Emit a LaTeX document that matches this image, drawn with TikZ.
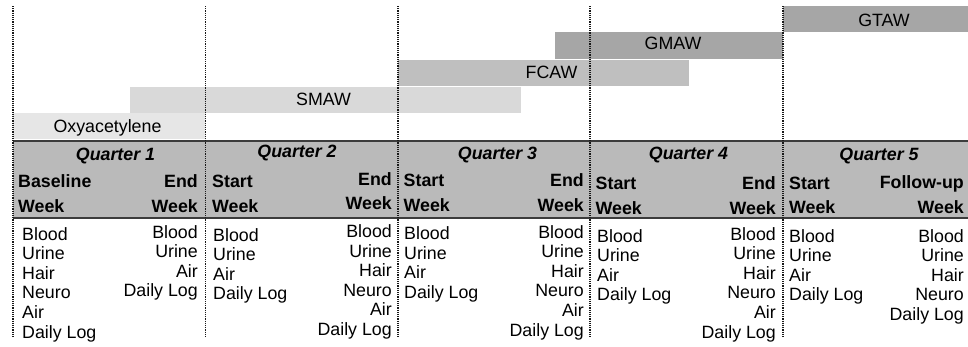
\documentclass[tikz,border=0pt]{standalone}
\usepackage{fontspec}
\setmainfont{Liberation Sans}
\definecolor{oxyfill}{HTML}{E6E6E6}
\definecolor{smawfill}{HTML}{D9D9D9}
\definecolor{fcawfill}{HTML}{BFBFBF}
\definecolor{gmawfill}{HTML}{A6A6A6}
\definecolor{hdrfill}{HTML}{BABABA}
\definecolor{rulecol}{HTML}{3C3C3C}
% one column of stacked sample labels: name prefix, anchor, x, first baseline, items
\newcommand{\samplecol}[5]{%
  \foreach \t [count=\k] in {#5}{%
    \node[lbl, anchor=#2] (#1-\k) at (#3, {#4+19.6*(\k-1)}) {\t};}}
\begin{document}
\begin{tikzpicture}[x=1pt, y=-1pt,
  lbl/.style={inner sep=0pt, text=black, font=\fontsize{17.8}{20}\selectfont},
  hdr/.style={lbl, font=\fontsize{17.8}{20}\selectfont\bfseries},
  qtr/.style={lbl, font=\fontsize{17.8}{20}\selectfont\bfseries\itshape},
  sep/.style={line width=1.4pt, dash pattern=on 1.1pt off 1.1pt, black!90},
  rulestyle/.style={line width=2pt, rulecol}]
\useasboundingbox (0,0) rectangle (968,346);

% welding-process bars
\fill[oxyfill]  (13,113)  rectangle (205,139);
\fill[smawfill] (130,87)  rectangle (521,113);
\fill[fcawfill] (398,60)  rectangle (689,86);
\fill[gmawfill] (555,32)  rectangle (783,59);
\fill[gmawfill] (783,6)   rectangle (968,31.5);
\node[lbl, anchor=base] (oxy)  at (107.5,132) {Oxyacetylene};
\node[lbl, anchor=base] (smaw) at (323.5,105.5) {SMAW};
\node[lbl, anchor=base] (fcaw) at (551.5,78) {FCAW};
\node[lbl, anchor=base] (gmaw) at (673,49.5) {GMAW};
\node[lbl, anchor=base] (gtaw) at (884,26.5) {GTAW};

% header band
\fill[hdrfill] (13,141) rectangle (968,218);
\draw[rulestyle] (13,141) -- (968,141);
\draw[rulestyle] (13,218) -- (968,218);

% quarter titles
\node[qtr, anchor=base] (q1) at (115.5,160) {Quarter 1};
\node[qtr, anchor=base] (q2) at (297,157.5) {Quarter 2};
\node[qtr, anchor=base] (q3) at (497.5,159) {Quarter 3};
\node[qtr, anchor=base] (q4) at (688.5,159.5) {Quarter 4};
\node[qtr, anchor=base] (q5) at (879,160) {Quarter 5};

% week headings
\node[hdr, anchor=base west] (h1a) at (18,187.5) {Baseline};
\node[hdr, anchor=base west] (h1b) at (18,212.5) {Week};
\node[hdr, anchor=base east] (h1c) at (198,187) {End};
\node[hdr, anchor=base east] (h1d) at (198,212) {Week};
\node[hdr, anchor=base west] (h2a) at (212,187.5) {Start};
\node[hdr, anchor=base west] (h2b) at (212,212.5) {Week};
\node[hdr, anchor=base east] (h2c) at (392,185) {End};
\node[hdr, anchor=base east] (h2d) at (392,209.5) {Week};
\node[hdr, anchor=base west] (h3a) at (403.5,186.5) {Start};
\node[hdr, anchor=base west] (h3b) at (403.5,211.5) {Week};
\node[hdr, anchor=base east] (h3c) at (584,186.5) {End};
\node[hdr, anchor=base east] (h3d) at (584,211.5) {Week};
\node[hdr, anchor=base west] (h4a) at (595.5,189.5) {Start};
\node[hdr, anchor=base west] (h4b) at (595.5,214) {Week};
\node[hdr, anchor=base east] (h4c) at (776,189.5) {End};
\node[hdr, anchor=base east] (h4d) at (776,214) {Week};
\node[hdr, anchor=base west] (h5a) at (789,189.5) {Start};
\node[hdr, anchor=base west] (h5b) at (789,213.5) {Week};
\node[hdr, anchor=base east] (h5c) at (964,188) {Follow-up};
\node[hdr, anchor=base east] (h5d) at (964,213.5) {Week};

% samples collected in each week
\samplecol{s1a}{base west}{22}{240}{Blood,Urine,Hair,Neuro,Air,Daily Log}
\samplecol{s1b}{base east}{198}{238}{Blood,Urine,Air,Daily Log}
\samplecol{s2a}{base west}{213}{241}{Blood,Urine,Air,Daily Log}
\samplecol{s2b}{base east}{392}{237.5}{Blood,Urine,Hair,Neuro,Air,Daily Log}
\samplecol{s3a}{base west}{404}{239.5}{Blood,Urine,Air,Daily Log}
\samplecol{s3b}{base east}{584}{238}{Blood,Urine,Hair,Neuro,Air,Daily Log}
\samplecol{s4a}{base west}{597}{242}{Blood,Urine,Air,Daily Log}
\samplecol{s4b}{base east}{776}{240}{Blood,Urine,Hair,Neuro,Air,Daily Log}
\samplecol{s5a}{base west}{789}{242}{Blood,Urine,Air,Daily Log}
\samplecol{s5b}{base east}{964}{242}{Blood,Urine,Hair,Neuro,Daily Log}

% dotted quarter boundaries
\foreach \xx in {13,205.5,398,590,783}
  \draw[sep] (\xx,6) -- (\xx,338);
\end{tikzpicture}
\end{document}
